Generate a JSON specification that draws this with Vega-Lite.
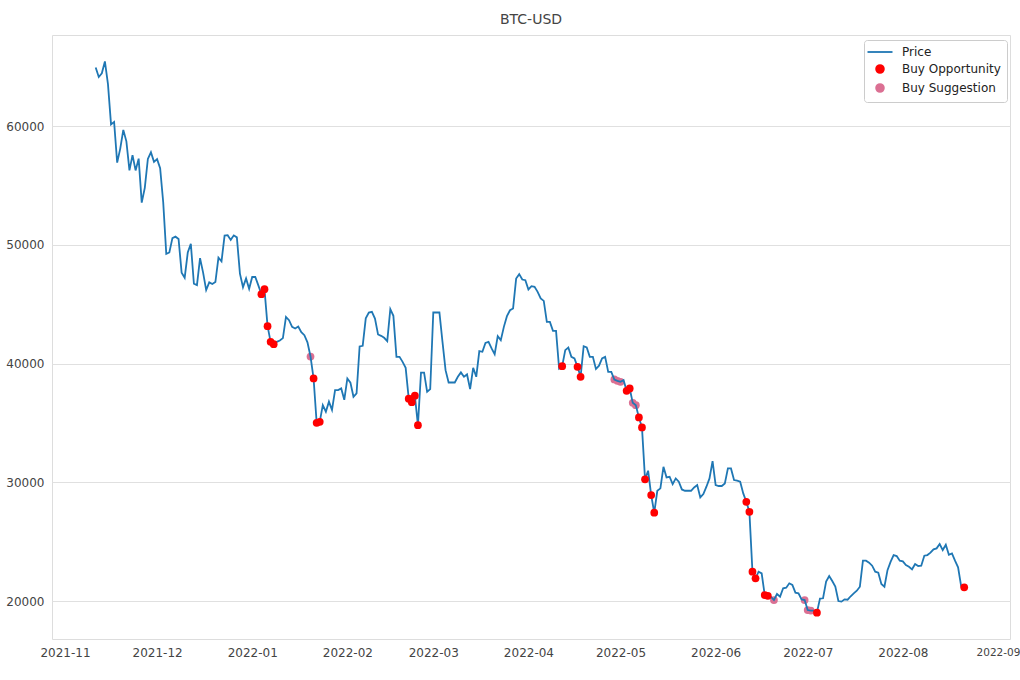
{
"$schema": "https://vega.github.io/schema/vega-lite/v6.json",
"width": 958, "height": 604,
"autosize": {"type": "none"},
"padding": {"left": 52, "top": 35, "right": 10, "bottom": 41},
"background": "white",
"title": {"text": "BTC-USD", "fontSize": 14, "font": "DejaVu Sans", "fontWeight": "normal", "color": "#444444", "offset": 8},
"config": {"view": {"stroke": "#dddddd"}, "font": "DejaVu Sans",
  "legend": {"title": null, "orient": "none", "legendX": 812, "legendY": 5, "fillColor": "white", "strokeColor": "#cccccc", "cornerRadius": 3, "padding": 6, "labelFontSize": 12, "labelFont": "DejaVu Sans", "labelColor": "#222222", "labelOffset": 16, "symbolOffset": 4, "rowPadding": 3}},
"data": {"values": [
{"d":"2021-11-11","p":64950},{"d":"2021-11-12","p":64155},{"d":"2021-11-13","p":64469},{"d":"2021-11-14","p":65466},{"d":"2021-11-15","p":63557},{"d":"2021-11-16","p":60161},{"d":"2021-11-17","p":60368},{"d":"2021-11-18","p":56942},{"d":"2021-11-19","p":58119},{"d":"2021-11-20","p":59697},
{"d":"2021-11-21","p":58730},{"d":"2021-11-22","p":56289},{"d":"2021-11-23","p":57569},{"d":"2021-11-24","p":56281},{"d":"2021-11-25","p":57274},{"d":"2021-11-26","p":53569},{"d":"2021-11-27","p":54816},{"d":"2021-11-28","p":57248},{"d":"2021-11-29","p":57806},{"d":"2021-11-30","p":57005},
{"d":"2021-12-01","p":57229},{"d":"2021-12-02","p":56477},{"d":"2021-12-03","p":53598},{"d":"2021-12-04","p":49253},{"d":"2021-12-05","p":49368},{"d":"2021-12-06","p":50582},{"d":"2021-12-07","p":50700},{"d":"2021-12-08","p":50504},{"d":"2021-12-09","p":47672},{"d":"2021-12-10","p":47243},
{"d":"2021-12-11","p":49362},{"d":"2021-12-12","p":50098},{"d":"2021-12-13","p":46737},{"d":"2021-12-14","p":46612},{"d":"2021-12-15","p":48896},{"d":"2021-12-16","p":47666},{"d":"2021-12-17","p":46203},{"d":"2021-12-18","p":46849},{"d":"2021-12-19","p":46707},{"d":"2021-12-20","p":46880},
{"d":"2021-12-21","p":48936},{"d":"2021-12-22","p":48628},{"d":"2021-12-23","p":50784},{"d":"2021-12-24","p":50822},{"d":"2021-12-25","p":50429},{"d":"2021-12-26","p":50809},{"d":"2021-12-27","p":50640},{"d":"2021-12-28","p":47588},{"d":"2021-12-29","p":46444},{"d":"2021-12-30","p":47178},{"d":"2021-12-31","p":46306},
{"d":"2022-01-01","p":47300},{"d":"2022-01-02","p":47300},{"d":"2022-01-03","p":46600},{"d":"2022-01-04","p":45850,"s":"Buy Opportunity"},{"d":"2022-01-05","p":46270,"s":"Buy Opportunity"},{"d":"2022-01-06","p":43160,"s":"Buy Opportunity"},{"d":"2022-01-07","p":41840,"s":"Buy Opportunity"},{"d":"2022-01-08","p":41640,"s":"Buy Opportunity"},{"d":"2022-01-09","p":41840},{"d":"2022-01-10","p":41950},
{"d":"2022-01-11","p":42150},{"d":"2022-01-12","p":43940},{"d":"2022-01-13","p":43660},{"d":"2022-01-14","p":43100},{"d":"2022-01-15","p":42960},{"d":"2022-01-16","p":43130},{"d":"2022-01-17","p":42650},{"d":"2022-01-18","p":42400},{"d":"2022-01-19","p":41800},{"d":"2022-01-20","p":40600,"s":"Buy Suggestion"},
{"d":"2022-01-21","p":38750,"s":"Buy Opportunity"},{"d":"2022-01-22","p":35020,"s":"Buy Opportunity"},{"d":"2022-01-23","p":35100,"s":"Buy Opportunity"},{"d":"2022-01-24","p":36500},{"d":"2022-01-25","p":35950},{"d":"2022-01-26","p":36800},{"d":"2022-01-27","p":36100},{"d":"2022-01-28","p":37770},{"d":"2022-01-29","p":37770},{"d":"2022-01-30","p":37910},{"d":"2022-01-31","p":36950},
{"d":"2022-02-01","p":38750},{"d":"2022-02-02","p":38400},{"d":"2022-02-03","p":37210},{"d":"2022-02-04","p":37490},{"d":"2022-02-05","p":41450},{"d":"2022-02-06","p":41500},{"d":"2022-02-07","p":43820},{"d":"2022-02-08","p":44300},{"d":"2022-02-09","p":44365},{"d":"2022-02-10","p":43800},
{"d":"2022-02-11","p":42460},{"d":"2022-02-12","p":42345},{"d":"2022-02-13","p":42180},{"d":"2022-02-14","p":41900},{"d":"2022-02-15","p":44590},{"d":"2022-02-16","p":44030},{"d":"2022-02-17","p":40575},{"d":"2022-02-18","p":40575},{"d":"2022-02-19","p":40150},{"d":"2022-02-20","p":39650},
{"d":"2022-02-21","p":37050,"s":"Buy Opportunity"},{"d":"2022-02-22","p":36750,"s":"Buy Opportunity"},{"d":"2022-02-23","p":37300,"s":"Buy Opportunity"},{"d":"2022-02-24","p":34820,"s":"Buy Opportunity"},{"d":"2022-02-25","p":39250},{"d":"2022-02-26","p":39250},{"d":"2022-02-27","p":37630},{"d":"2022-02-28","p":37850},
{"d":"2022-03-01","p":44310},{"d":"2022-03-02","p":44310},{"d":"2022-03-03","p":44310},{"d":"2022-03-04","p":41840},{"d":"2022-03-05","p":39450},{"d":"2022-03-06","p":38410},{"d":"2022-03-07","p":38410},{"d":"2022-03-08","p":38410},{"d":"2022-03-09","p":38890},{"d":"2022-03-10","p":39260},
{"d":"2022-03-11","p":38890},{"d":"2022-03-12","p":39090},{"d":"2022-03-13","p":37850},{"d":"2022-03-14","p":39650},{"d":"2022-03-15","p":38890},{"d":"2022-03-16","p":41050},{"d":"2022-03-17","p":41000},{"d":"2022-03-18","p":41750},{"d":"2022-03-19","p":41840},{"d":"2022-03-20","p":41280},
{"d":"2022-03-21","p":40800},{"d":"2022-03-22","p":42315},{"d":"2022-03-23","p":41980},{"d":"2022-03-24","p":43100},{"d":"2022-03-25","p":44000},{"d":"2022-03-26","p":44500},{"d":"2022-03-27","p":44650},{"d":"2022-03-28","p":47170},{"d":"2022-03-29","p":47540},{"d":"2022-03-30","p":47090},{"d":"2022-03-31","p":47030},
{"d":"2022-04-01","p":46250},{"d":"2022-04-02","p":46530},{"d":"2022-04-03","p":46470},{"d":"2022-04-04","p":46050},{"d":"2022-04-05","p":45490},{"d":"2022-04-06","p":45290},{"d":"2022-04-07","p":43520},{"d":"2022-04-08","p":43520},{"d":"2022-04-09","p":42760},{"d":"2022-04-10","p":42760},
{"d":"2022-04-11","p":39590},{"d":"2022-04-12","p":39790,"s":"Buy Opportunity"},{"d":"2022-04-13","p":41140},{"d":"2022-04-14","p":41360},{"d":"2022-04-15","p":40575},{"d":"2022-04-16","p":40435},{"d":"2022-04-17","p":39730,"s":"Buy Opportunity"},{"d":"2022-04-18","p":38890,"s":"Buy Opportunity"},{"d":"2022-04-19","p":41470},{"d":"2022-04-20","p":41360},
{"d":"2022-04-21","p":40575},{"d":"2022-04-22","p":40575},{"d":"2022-04-23","p":39550},{"d":"2022-04-24","p":39830},{"d":"2022-04-25","p":40435},{"d":"2022-04-26","p":40575},{"d":"2022-04-27","p":39310},{"d":"2022-04-28","p":39310},{"d":"2022-04-29","p":38665,"s":"Buy Suggestion"},{"d":"2022-04-30","p":38550,"s":"Buy Suggestion"},
{"d":"2022-05-01","p":38470,"s":"Buy Suggestion"},{"d":"2022-05-02","p":38610},{"d":"2022-05-03","p":37710,"s":"Buy Opportunity"},{"d":"2022-05-04","p":37910,"s":"Buy Opportunity"},{"d":"2022-05-05","p":36700,"s":"Buy Suggestion"},{"d":"2022-05-06","p":36500,"s":"Buy Suggestion"},{"d":"2022-05-07","p":35470,"s":"Buy Opportunity"},{"d":"2022-05-08","p":34625,"s":"Buy Opportunity"},{"d":"2022-05-09","p":30250,"s":"Buy Opportunity"},{"d":"2022-05-10","p":30980},
{"d":"2022-05-11","p":28930,"s":"Buy Opportunity"},{"d":"2022-05-12","p":27440,"s":"Buy Opportunity"},{"d":"2022-05-13","p":29290},{"d":"2022-05-14","p":29490},{"d":"2022-05-15","p":31310},{"d":"2022-05-16","p":30420},{"d":"2022-05-17","p":30470},{"d":"2022-05-18","p":29850},{"d":"2022-05-19","p":30330},{"d":"2022-05-20","p":30050},
{"d":"2022-05-21","p":29400},{"d":"2022-05-22","p":29290},{"d":"2022-05-23","p":29290},{"d":"2022-05-24","p":29290},{"d":"2022-05-25","p":29570},{"d":"2022-05-26","p":29770},{"d":"2022-05-27","p":28730},{"d":"2022-05-28","p":29010},{"d":"2022-05-29","p":29630},{"d":"2022-05-30","p":30330},{"d":"2022-05-31","p":31780},
{"d":"2022-06-01","p":29770},{"d":"2022-06-02","p":29690},{"d":"2022-06-03","p":29690},{"d":"2022-06-04","p":29910},{"d":"2022-06-05","p":31170},{"d":"2022-06-06","p":31170},{"d":"2022-06-07","p":30190},{"d":"2022-06-08","p":30135},{"d":"2022-06-09","p":30050},{"d":"2022-06-10","p":29070},
{"d":"2022-06-11","p":28360,"s":"Buy Opportunity"},{"d":"2022-06-12","p":27520,"s":"Buy Opportunity"},{"d":"2022-06-13","p":22470,"s":"Buy Opportunity"},{"d":"2022-06-14","p":21910,"s":"Buy Opportunity"},{"d":"2022-06-15","p":22470},{"d":"2022-06-16","p":22330},{"d":"2022-06-17","p":20500,"s":"Buy Opportunity"},{"d":"2022-06-18","p":20440,"s":"Buy Opportunity"},{"d":"2022-06-19","p":20365},{"d":"2022-06-20","p":20084,"s":"Buy Suggestion"},
{"d":"2022-06-21","p":20590},{"d":"2022-06-22","p":20365},{"d":"2022-06-23","p":21070},{"d":"2022-06-24","p":21120},{"d":"2022-06-25","p":21490},{"d":"2022-06-26","p":21350},{"d":"2022-06-27","p":20700},{"d":"2022-06-28","p":20645},{"d":"2022-06-29","p":20140},{"d":"2022-06-30","p":20084,"s":"Buy Suggestion"},
{"d":"2022-07-01","p":19240,"s":"Buy Suggestion"},{"d":"2022-07-02","p":19190,"s":"Buy Suggestion"},{"d":"2022-07-03","p":19190},{"d":"2022-07-04","p":19020,"s":"Buy Opportunity"},{"d":"2022-07-05","p":20200},{"d":"2022-07-06","p":20230},{"d":"2022-07-07","p":21630},{"d":"2022-07-08","p":22110},{"d":"2022-07-09","p":21680},{"d":"2022-07-10","p":21210},
{"d":"2022-07-11","p":20000},{"d":"2022-07-12","p":19950},{"d":"2022-07-13","p":20140},{"d":"2022-07-14","p":20110},{"d":"2022-07-15","p":20400},{"d":"2022-07-16","p":20645},{"d":"2022-07-17","p":20870},{"d":"2022-07-18","p":21207},{"d":"2022-07-19","p":23400},{"d":"2022-07-20","p":23400},
{"d":"2022-07-21","p":23230},{"d":"2022-07-22","p":22975},{"d":"2022-07-23","p":22470},{"d":"2022-07-24","p":22390},{"d":"2022-07-25","p":21430},{"d":"2022-07-26","p":21207},{"d":"2022-07-27","p":22600},{"d":"2022-07-28","p":23300},{"d":"2022-07-29","p":23870},{"d":"2022-07-30","p":23790},{"d":"2022-07-31","p":23400},
{"d":"2022-08-01","p":23340},{"d":"2022-08-02","p":23030},{"d":"2022-08-03","p":22890},{"d":"2022-08-04","p":22670},{"d":"2022-08-05","p":23120},{"d":"2022-08-06","p":22950},{"d":"2022-08-07","p":22975},{"d":"2022-08-08","p":23820},{"d":"2022-08-09","p":23870},{"d":"2022-08-10","p":24070},
{"d":"2022-08-11","p":24350},{"d":"2022-08-12","p":24435},{"d":"2022-08-13","p":24800},{"d":"2022-08-14","p":24295},{"d":"2022-08-15","p":24743},{"d":"2022-08-16","p":23900},{"d":"2022-08-17","p":24015},{"d":"2022-08-18","p":23400},{"d":"2022-08-19","p":22835},{"d":"2022-08-20","p":21250},{"d":"2022-08-21","p":21150,"s":"Buy Opportunity"}
]},
"encoding": {
  "x": {"field": "d", "type": "temporal",
    "scale": {"type": "utc", "domain": [{"year":2021,"month":10,"date":27,"hours":18,"minutes":20,"utc":true},{"year":2022,"month":9,"date":4,"hours":22,"utc":true}]},
    "axis": {"title": null, "grid": false, "ticks": false, "domain": false, "labelExpr": "utcFormat(datum.value, '%Y-%m')", "labelPadding": 8,
      "labelFontSize": {"condition": {"test": "datum.value > 1661000000000", "value": 10.5}, "value": 12},
      "labelColor": "#444444", "labelFont": "DejaVu Sans", "labelOverlap": false, "labelFlush": false,
      "values": [{"year":2021,"month":11,"date":1,"utc":true},{"year":2021,"month":12,"date":1,"utc":true},{"year":2022,"month":1,"date":1,"utc":true},{"year":2022,"month":2,"date":1,"utc":true},{"year":2022,"month":3,"date":1,"utc":true},{"year":2022,"month":4,"date":1,"utc":true},{"year":2022,"month":5,"date":1,"utc":true},{"year":2022,"month":6,"date":1,"utc":true},{"year":2022,"month":7,"date":1,"utc":true},{"year":2022,"month":8,"date":1,"utc":true},{"year":2022,"month":9,"date":1,"utc":true}]}},
  "y": {"field": "p", "type": "quantitative",
    "scale": {"domain": [16799, 67692], "zero": false, "nice": false},
    "axis": {"title": null, "values": [20000,30000,40000,50000,60000], "format": "d", "grid": true, "gridColor": "#e0e0e0", "gridWidth": 1, "ticks": false, "domain": false, "labelPadding": 8, "labelFontSize": 12, "labelColor": "#444444", "labelFont": "DejaVu Sans"}}
},
"layer": [
  {"transform": [{"filter": "datum.s === 'Buy Suggestion'"}],
   "mark": {"type": "circle", "size": 60, "opacity": 1},
   "encoding": {"color": {"field": "s", "type": "nominal",
     "scale": {"domain": ["Price", "Buy Opportunity", "Buy Suggestion"], "range": ["#1f77b4", "#ff0000", "#db7093"]},
     "legend": {"encode": {"symbols": {"update": {
         "shape": {"signal": "datum.value === 'Price' ? 'stroke' : 'circle'"},
         "size": {"signal": "datum.value === 'Price' ? 625 : 60"},
         "stroke": {"signal": "datum.value === 'Price' ? '#1f77b4' : 'transparent'"},
         "strokeWidth": {"value": 1.8},
         "fill": {"signal": "datum.value === 'Price' ? 'transparent' : (datum.value === 'Buy Opportunity' ? '#ff0000' : '#db7093')"},
         "opacity": {"value": 1}}}}}}}},
  {"mark": {"type": "line", "strokeWidth": 1.8}, "encoding": {"color": {"datum": "Price", "type": "nominal",
     "legend": {"encode": {"symbols": {"update": {
         "shape": {"signal": "datum.value === 'Price' ? 'stroke' : 'circle'"},
         "size": {"signal": "datum.value === 'Price' ? 625 : 60"},
         "stroke": {"signal": "datum.value === 'Price' ? '#1f77b4' : 'transparent'"},
         "strokeWidth": {"value": 1.8},
         "fill": {"signal": "datum.value === 'Price' ? 'transparent' : (datum.value === 'Buy Opportunity' ? '#ff0000' : '#db7093')"},
         "opacity": {"value": 1}}}}}}}},
  {"transform": [{"filter": "datum.s === 'Buy Opportunity'"}],
   "mark": {"type": "circle", "size": 60, "opacity": 1},
   "encoding": {"color": {"field": "s", "type": "nominal",
     "legend": {"encode": {"symbols": {"update": {
         "shape": {"signal": "datum.value === 'Price' ? 'stroke' : 'circle'"},
         "size": {"signal": "datum.value === 'Price' ? 625 : 60"},
         "stroke": {"signal": "datum.value === 'Price' ? '#1f77b4' : 'transparent'"},
         "strokeWidth": {"value": 1.8},
         "fill": {"signal": "datum.value === 'Price' ? 'transparent' : (datum.value === 'Buy Opportunity' ? '#ff0000' : '#db7093')"},
         "opacity": {"value": 1}}}}}}}}
]
}
